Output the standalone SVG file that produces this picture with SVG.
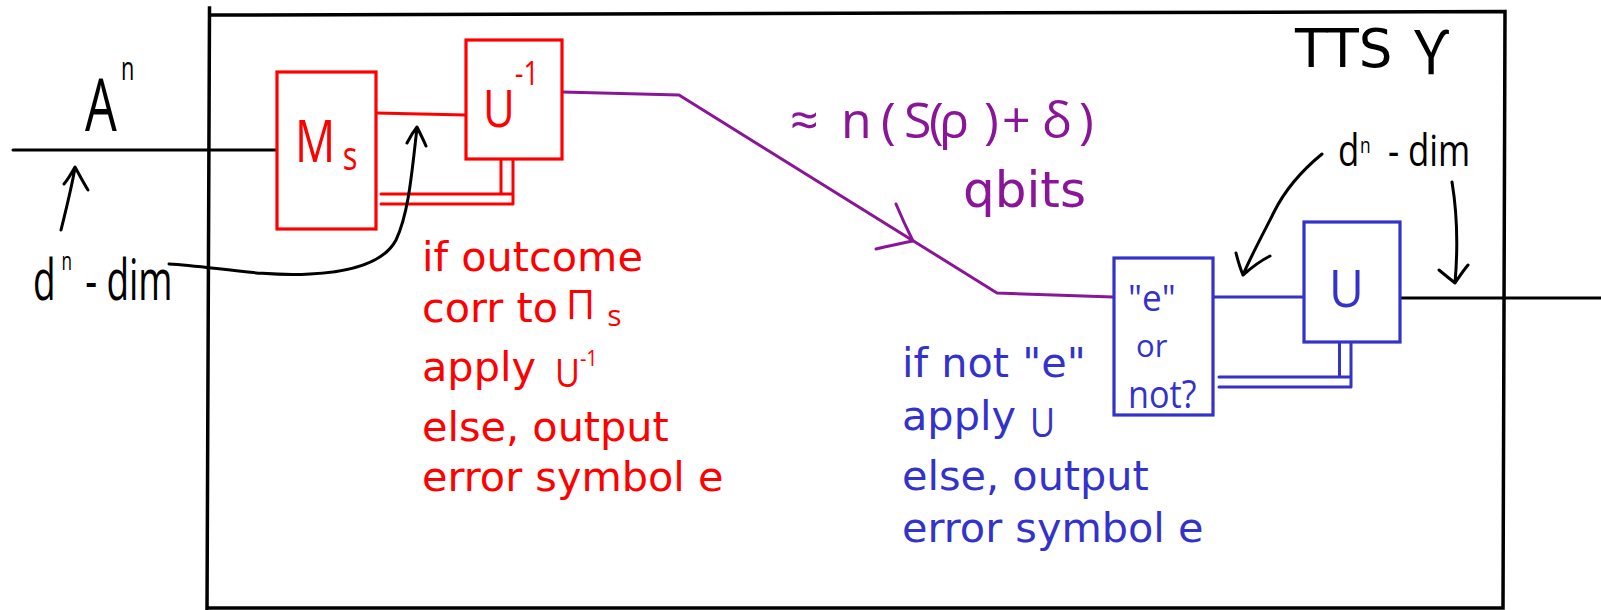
<svg xmlns="http://www.w3.org/2000/svg" width="1601" height="610" viewBox="0 0 1601 610">
  <style>
    .frame { fill: none; stroke: #000; stroke-width: 3.5; stroke-linecap: square; }
    .wire { fill: none; stroke-width: 3; stroke-linecap: round; stroke-linejoin: round; }
    .k { stroke: #000; }
    .r { stroke: #ff0000; }
    .b { stroke: #3333cc; }
    .p { stroke: #8a1598; }
    .box { fill: #fff; stroke-width: 3.2; }
    .typed { font-family: "DejaVu Sans", "Liberation Sans", sans-serif; }
    .body { font-size: 41.4px; }
    .hand { font-family: "Open Sans", "DejaVu Sans", sans-serif; font-weight: 400; }
    .tr { fill: #ff0000; }
    .tb { fill: #3333cc; }
    .tp { fill: #8a1598; }
    .tk { fill: #000; }
  </style>

  <!-- outer TTS frame -->
  <g id="tts-frame">
    <path class="frame" d="M209.5,8 L207,610 M210,15 L1505,11.5 L1503,608 L207,608"/>
    <text class="typed tk" x="1295" y="67" font-size="53">TTS</text>
    <text class="hand tk" x="1414" y="75" font-size="62">ϒ</text>
  </g>

  <!-- wires and hand-drawn arrows -->
  <g id="connectors">
    <!-- input system A^n -->
    <path class="wire k" d="M13,150 L277,150"/>
    <!-- Ms to U^-1 quantum wire -->
    <path class="wire r" d="M376,113 L466,115"/>
    <!-- classical double wire from measurement outcome -->
    <path class="wire r" d="M501,159 V194 M513,159 V204 M381,194 H513 M381,204 H513" stroke-linecap="butt"/>
    <!-- compressed qubits -->
    <path class="wire p" d="M562,92 L679,95 L997,293 L1113,297"/>
    <path class="wire p" d="M896,204 C901,216 907,229 913,241 M876,249 C889,246 901,243 913,241"/>
    <!-- check box to U -->
    <path class="wire b" d="M1214,297 L1304,297"/>
    <path class="wire b" d="M1339.5,342 V377 M1351,342 V387 M1219,377 H1351 M1219,387 H1351" stroke-linecap="butt"/>
    <!-- output -->
    <path class="wire k" d="M1400,298 L1601,298"/>
    <!-- dimension annotations -->
    <path class="wire k" d="M61,230 C66,210 71,190 75,168 M64,184 C69,178 72,172 75,167 C79,174 83,182 88,190"/>
    <path class="wire k" d="M169,264 C210,266 260,277 310,274 C350,272 384,263 396,240 C409,213 412,170 417,128 M407,143 C410,137 413,132 417,127 C420,133 423,139 426,146"/>
    <path class="wire k" d="M1322,154 C1300,172 1284,192 1274,212 C1261,238 1250,258 1243,275 M1236,253 C1238,261 1240,268 1243,275 C1251,268 1260,261 1270,256"/>
    <path class="wire k" d="M1452,182 C1457,212 1458,248 1455,283 M1439,270 C1445,275 1450,279 1455,283 C1459,277 1463,271 1468,265"/>
  </g>

  <!-- input label -->
  <g id="label-input">
    <text class="hand tk" font-size="74" transform="translate(85,131) scale(0.68,1)">A<tspan dx="6" dy="-51" font-size="32">n</tspan></text>
  </g>
  <g id="label-dim-left">
    <text class="hand tk" font-size="56" transform="translate(33,300) scale(0.66,1)">d<tspan dx="9" dy="-30" font-size="26">n</tspan><tspan dx="20" dy="30">-</tspan><tspan dx="14">dim</tspan></text>
  </g>
  <g id="label-dim-right">
    <text class="hand tk" font-size="44" transform="translate(1338,166) scale(0.79,1)">d<tspan dx="1" dy="-13" font-size="22">n</tspan><tspan dx="22" dy="13">-</tspan><tspan dx="11">dim</tspan></text>
  </g>

  <!-- measurement Ms -->
  <g id="node-ms">
    <rect class="box r" x="277" y="72" width="99" height="157"/>
    <text class="hand tr" font-size="58" transform="translate(295,162) scale(0.77,1)">M<tspan dx="10" dy="8" font-size="40">s</tspan></text>
  </g>

  <!-- inverse unitary -->
  <g id="node-uinv">
    <rect class="box r" x="466" y="40" width="96" height="119"/>
    <text class="hand tr" font-size="52" transform="translate(483,127) scale(0.84,1)">U<tspan dy="-42" font-size="32">-1</tspan></text>
  </g>

  <!-- sender rule -->
  <g id="label-sender">
    <text class="typed body tr" x="422" y="271">if outcome</text>
    <text class="typed body tr" x="422" y="322">corr to</text>
    <text class="hand tr" x="566" y="319" font-size="40">Π<tspan dx="12" dy="7" font-size="30">s</tspan></text>
    <text class="typed body tr" x="422" y="381">apply</text>
    <text class="hand tr" font-size="38" transform="translate(555,387) scale(0.9,1)">U<tspan dy="-21" font-size="22">-1</tspan></text>
    <text class="typed body tr" x="422" y="441">else, output</text>
    <text class="typed body tr" x="422" y="491">error symbol e</text>
  </g>

  <!-- channel rate -->
  <g id="label-rate">
    <text class="hand tp" font-size="50" y="138" x="790 841 881 904 929 939 984 1002 1042 1079">≈n(S(ρ)+δ)</text>
    <text class="typed tp" x="963" y="207" font-size="50">qbits</text>
  </g>

  <!-- error check -->
  <g id="node-check">
    <rect class="box b" x="1114" y="258" width="99" height="157"/>
    <text class="hand tb" font-size="37" transform="translate(1128,311) scale(0.95,1)">"e"</text>
    <text class="hand tb" font-size="31" transform="translate(1136,357) scale(1,1)">or</text>
    <text class="hand tb" font-size="38" transform="translate(1128,408) scale(0.9,1)">not?</text>
  </g>

  <!-- decoding unitary -->
  <g id="node-u">
    <rect class="box b" x="1304" y="222" width="96" height="120"/>
    <text class="hand tb" font-size="52" transform="translate(1329,307) scale(0.92,1)">U</text>
  </g>

  <!-- receiver rule -->
  <g id="label-receiver">
    <text class="typed body tb" x="902" y="377">if not "e"</text>
    <text class="typed body tb" x="902" y="430">apply</text>
    <text class="hand tb" font-size="40" transform="translate(1030,437) scale(0.86,1)">U</text>
    <text class="typed body tb" x="902" y="490">else, output</text>
    <text class="typed body tb" x="902" y="542">error symbol e</text>
  </g>
</svg>
